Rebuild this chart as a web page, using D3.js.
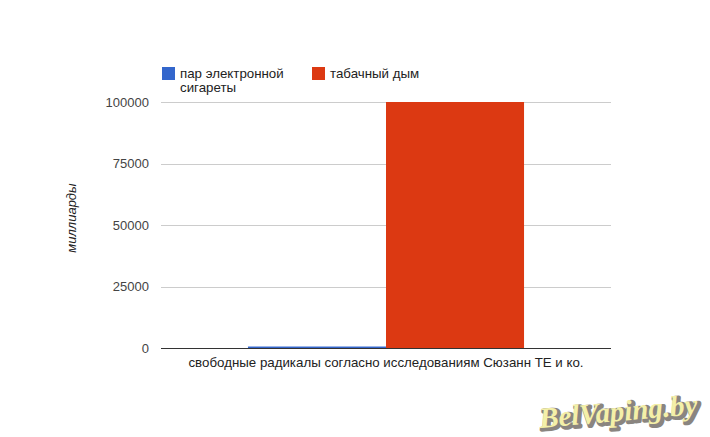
<!DOCTYPE html>
<html>
<head>
<meta charset="utf-8">
<script src="https://cdn.jsdelivr.net/npm/d3@7"></script>
<style>
  body { margin: 0; background: #fff; }
  svg { display: block; font-family: "Liberation Sans", Arial, sans-serif; }
</style>
</head>
<body>
<div id="chart"></div>
<script>
  'use strict';

  // chart data
  var categories = ['свободные радикалы согласно исследованиям Сюзанн ТЕ и ко.'];
  var seriesNames = ['пар электронной сигареты', 'табачный дым'];
  var seriesColors = ['#3366cc', '#dc3912'];
  var ecigValues = [600];
  var tobaccoValues = [100000];
  var yTicks = [0, 25000, 50000, 75000, 100000];
  var yTitle = 'миллиарды';

  var width = 710,
      height = 437,
      margin = {top: 102, right: 99, bottom: 89, left: 161};

  var svg = d3.select('#chart')
    .append('svg')
    .attr('width', width)
    .attr('height', height);

  var plotW = width - margin.left - margin.right,
      plotH = height - margin.top - margin.bottom;

  var g = svg.append('g')
    .attr('transform', 'translate(' + margin.left + ',' + margin.top + ')');

  var x0 = d3.scaleBand()
    .domain(categories)
    .range([0, plotW])
    .paddingInner(0)
    .paddingOuter(0.315);

  var x1 = d3.scaleBand()
    .domain(seriesNames)
    .range([0, x0.bandwidth()])
    .padding(0);

  var y = d3.scaleLinear()
    .domain([0, 100000])
    .range([plotH, 0]);

  // gridlines
  g.append('g')
    .selectAll('line')
    .data(yTicks)
    .enter()
    .append('line')
      .attr('x1', 0)
      .attr('x2', plotW)
      .attr('y1', function (d) { return Math.round(y(d)) + 0.5; })
      .attr('y2', function (d) { return Math.round(y(d)) + 0.5; })
      .attr('stroke', '#cccccc')
      .attr('stroke-width', 1);

  // y axis labels
  var yAxis = d3.axisLeft(y)
    .tickValues(yTicks)
    .tickSize(0)
    .tickPadding(12)
    .tickFormat(d3.format('d'));

  var yAxisG = g.append('g').call(yAxis);
  yAxisG.select('.domain').remove();
  yAxisG.selectAll('text')
    .attr('fill', '#444')
    .style('font-size', '13px')
    .style('font-family', '"Liberation Sans", Arial, sans-serif');

  // bars
  var rows = categories.map(function (c, i) {
    return {cat: c, vals: [ecigValues[i], tobaccoValues[i]]};
  });

  var groups = g.selectAll('.group')
    .data(rows)
    .enter()
    .append('g')
      .attr('class', 'group')
      .attr('transform', function (d) { return 'translate(' + x0(d.cat) + ',0)'; });

  groups.selectAll('rect')
    .data(function (d) {
      return d.vals.map(function (v, i) { return {name: seriesNames[i], v: v, i: i}; });
    })
    .enter()
    .append('rect')
      .attr('x', function (d) { return x1(d.name); })
      .attr('width', x1.bandwidth())
      .attr('y', function (d) { return y(d.v); })
      .attr('height', function (d) { return plotH - y(d.v); })
      .attr('fill', function (d) { return seriesColors[d.i]; });

  // baseline
  g.append('line')
    .attr('x1', 0)
    .attr('x2', plotW)
    .attr('y1', plotH + 0.5)
    .attr('y2', plotH + 0.5)
    .attr('stroke', '#333')
    .attr('stroke-width', 1);

  // x axis category label
  var xAxis = d3.axisBottom(x0).tickSize(0).tickPadding(10);
  var xAxisG = g.append('g')
    .attr('transform', 'translate(0,' + plotH + ')')
    .call(xAxis);
  xAxisG.select('.domain').remove();
  xAxisG.selectAll('text')
    .attr('fill', '#222')
    .style('font-size', '13.3px')
    .style('font-family', '"Liberation Sans", Arial, sans-serif');

  // y title
  svg.append('text')
    .attr('transform', 'translate(76,218) rotate(-90)')
    .attr('text-anchor', 'middle')
    .attr('fill', '#222')
    .style('font-size', '13px')
    .style('font-style', 'italic')
    .text(yTitle);

  // legend
  var legendX = [162, 312];
  var legend = svg.selectAll('.legend')
    .data(seriesNames)
    .enter()
    .append('g')
      .attr('class', 'legend')
      .attr('transform', function (d, i) { return 'translate(' + legendX[i] + ',67)'; });

  legend.append('rect')
    .attr('width', 13)
    .attr('height', 13)
    .attr('fill', function (d, i) { return seriesColors[i]; });

  legend.append('text')
    .attr('x', 18)
    .attr('y', 11)
    .attr('fill', '#222')
    .style('font-size', '13.3px')
    .each(function (d, i) {
      var t = d3.select(this);
      var parts = i === 0 ? ['пар электронной', 'сигареты'] : [d];
      parts.forEach(function (p, k) {
        t.append('tspan')
          .attr('x', 18)
          .attr('dy', k === 0 ? 0 : 14)
          .text(p);
      });
    });

  // watermark
  var wm = svg.append('g')
    .attr('transform', 'translate(619,421) rotate(-5)');
  wm.append('text')
    .attr('x', 2)
    .attr('y', 2)
    .attr('text-anchor', 'middle')
    .attr('fill', '#8a8580')
    .attr('stroke', '#8a8580')
    .attr('stroke-width', 4)
    .attr('stroke-linejoin', 'round')
    .style('font-family', '"Liberation Serif", serif')
    .style('font-style', 'italic')
    .style('font-weight', 'bold')
    .style('font-size', '29px')
    .text('BelVaping.by');
  wm.append('text')
    .attr('text-anchor', 'middle')
    .attr('fill', '#f4f0a8')
    .style('font-family', '"Liberation Serif", serif')
    .style('font-style', 'italic')
    .style('font-weight', 'bold')
    .style('font-size', '29px')
    .text('BelVaping.by');
</script>
</body>
</html>
